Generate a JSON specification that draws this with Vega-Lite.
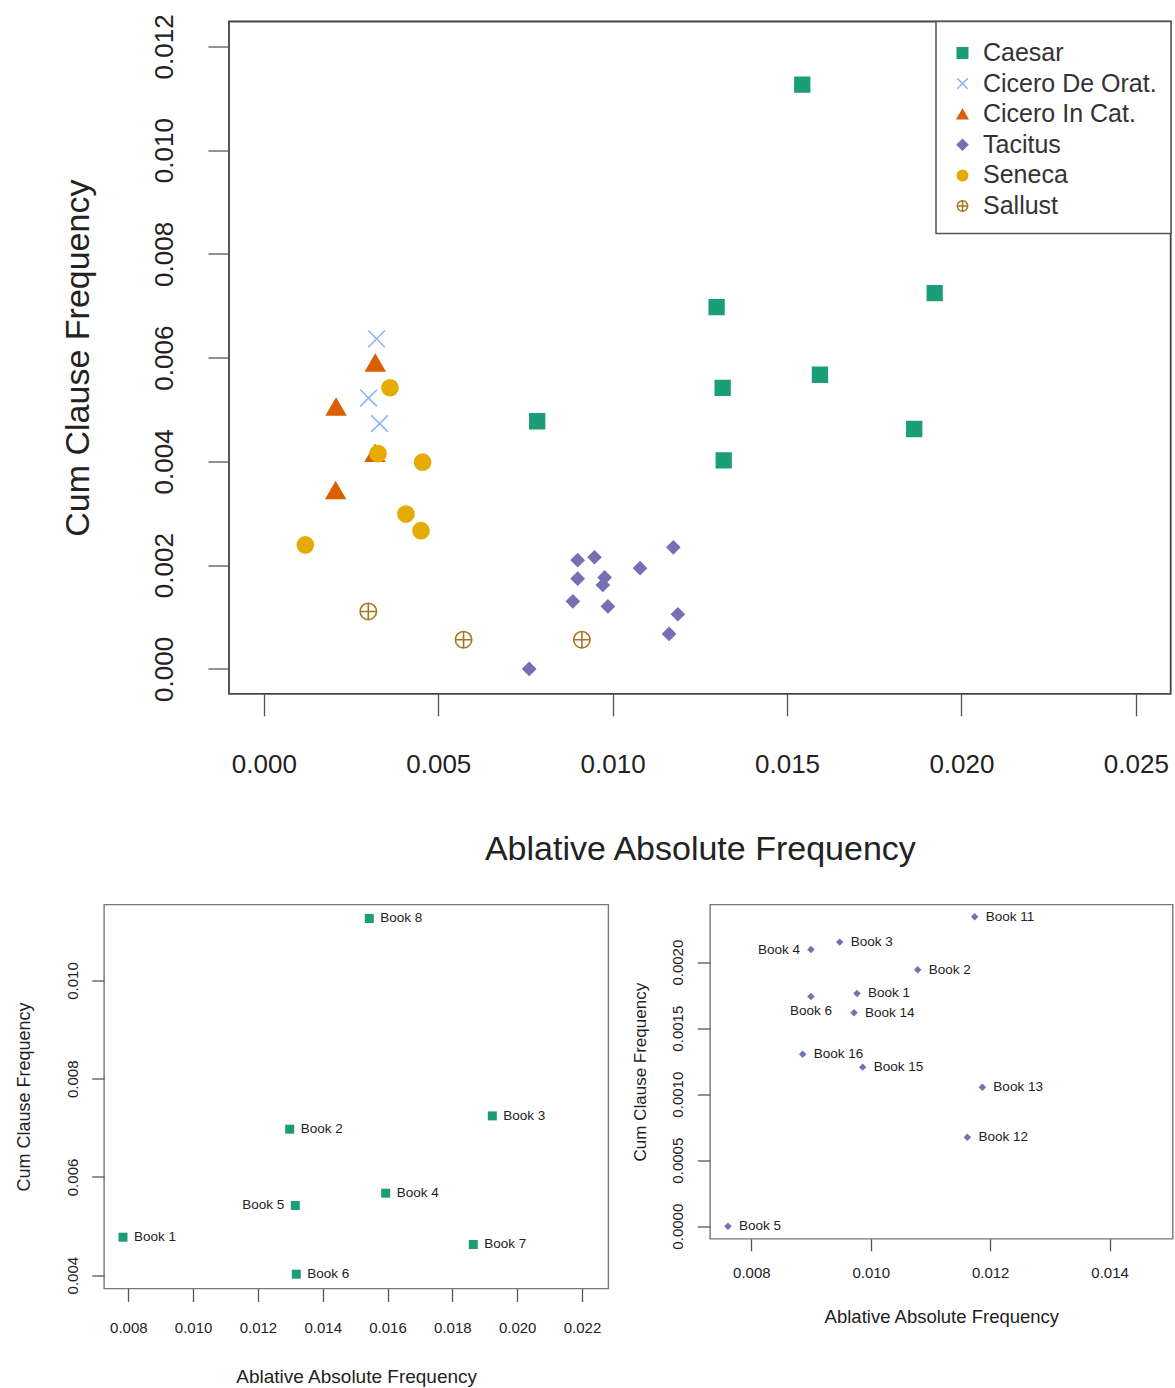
{
  "$schema": "https://vega.github.io/schema/vega-lite/v6.json",
  "padding": {"left": 14, "top": 12.5, "right": 0, "bottom": 0},
  "background": "white",
  "config": {
    "font": "Liberation Sans",
    "view": {"stroke": "#555", "strokeWidth": 1.6},
    "axis": {"domain": false, "grid": false, "tickColor": "#555", "tickWidth": 1.3, "labelColor": "#222", "titleColor": "#222", "titleFontWeight": "normal", "labelFlush": false, "labelOverlap": false},
    "legend": {"orient": "top-right", "offset": 0, "padding": 14, "strokeColor": "#555", "strokeWidth": 1.5, "fillColor": "white", "labelFontSize": 25, "labelLimit": 400, "labelColor": "#333", "symbolSize": 110, "symbolStrokeWidth": 1.5, "rowPadding": 4.6, "labelOffset": 8, "titleFontSize": 1, "titlePadding": 4}
  },
  "datasets": {
    "works": [
      {"author": "Caesar", "book": "Book 1", "x": 0.007836, "y": 0.004774},
      {"author": "Caesar", "book": "Book 2", "x": 0.012981, "y": 0.006973},
      {"author": "Caesar", "book": "Book 3", "x": 0.019233, "y": 0.007243},
      {"author": "Caesar", "book": "Book 4", "x": 0.015943, "y": 0.00567},
      {"author": "Caesar", "book": "Book 5", "x": 0.013154, "y": 0.005419},
      {"author": "Caesar", "book": "Book 6", "x": 0.013184, "y": 0.00402},
      {"author": "Caesar", "book": "Book 7", "x": 0.018646, "y": 0.004625},
      {"author": "Caesar", "book": "Book 8", "x": 0.015437, "y": 0.011262},
      {"author": "Cicero De Orat.", "book": "", "x": 0.003232, "y": 0.006362},
      {"author": "Cicero De Orat.", "book": "", "x": 0.003003, "y": 0.005221},
      {"author": "Cicero De Orat.", "book": "", "x": 0.003318, "y": 0.004729},
      {"author": "Cicero In Cat.", "book": "", "x": 0.003195, "y": 0.0059},
      {"author": "Cicero In Cat.", "book": "", "x": 0.002069, "y": 0.00505},
      {"author": "Cicero In Cat.", "book": "", "x": 0.003186, "y": 0.00416},
      {"author": "Cicero In Cat.", "book": "", "x": 0.002057, "y": 0.00344},
      {"author": "Tacitus", "book": "Book 1", "x": 0.009769, "y": 0.001763},
      {"author": "Tacitus", "book": "Book 2", "x": 0.010786, "y": 0.001942},
      {"author": "Tacitus", "book": "Book 3", "x": 0.009479, "y": 0.002152},
      {"author": "Tacitus", "book": "Book 4", "x": 0.008998, "y": 0.002096},
      {"author": "Tacitus", "book": "Book 5", "x": 0.007608, "y": 0.0},
      {"author": "Tacitus", "book": "Book 6", "x": 0.008998, "y": 0.00174},
      {"author": "Tacitus", "book": "Book 11", "x": 0.01174, "y": 0.002344},
      {"author": "Tacitus", "book": "Book 12", "x": 0.011618, "y": 0.000674},
      {"author": "Tacitus", "book": "Book 13", "x": 0.011869, "y": 0.001053},
      {"author": "Tacitus", "book": "Book 14", "x": 0.009719, "y": 0.001617},
      {"author": "Tacitus", "book": "Book 15", "x": 0.009864, "y": 0.001205},
      {"author": "Tacitus", "book": "Book 16", "x": 0.008859, "y": 0.001303},
      {"author": "Seneca", "book": "", "x": 0.003616, "y": 0.00542},
      {"author": "Seneca", "book": "", "x": 0.003272, "y": 0.004152},
      {"author": "Seneca", "book": "", "x": 0.00455, "y": 0.003985},
      {"author": "Seneca", "book": "", "x": 0.004074, "y": 0.002985},
      {"author": "Seneca", "book": "", "x": 0.004504, "y": 0.002664},
      {"author": "Seneca", "book": "", "x": 0.001189, "y": 0.002389},
      {"author": "Sallust", "book": "", "x": 0.002994, "y": 0.001107},
      {"author": "Sallust", "book": "", "x": 0.005725, "y": 0.000563},
      {"author": "Sallust", "book": "", "x": 0.009117, "y": 0.000563}
    ]
  },
  "bounds": "full",
  "spacing": 35,
  "resolve": {"scale": {"fill": "independent", "stroke": "independent", "shape": "independent", "size": "independent"}},
  "vconcat": [
    {
      "bounds": "flush",
      "spacing": 0,
      "resolve": {"scale": {"fill": "independent", "stroke": "independent", "shape": "independent", "size": "independent"}},
      "hconcat": [
        {
          "width": 124.3,
          "height": 1,
          "data": {"values": []},
          "mark": {"type": "point", "opacity": 0},
          "encoding": {},
          "view": {"stroke": null}
        },
        {
          "width": 941.7,
          "height": 672.3,
          "data": {"name": "works"},
          "view": {"stroke": "#444", "strokeWidth": 1.8},
          "mark": {"type": "point", "filled": true, "opacity": 1, "strokeWidth": 1.6},
          "encoding": {
            "x": {
              "field": "x", "type": "quantitative",
              "scale": {"domain": [-0.001, 0.026], "nice": false, "zero": false},
              "axis": {"values": [0, 0.005, 0.01, 0.015, 0.02, 0.025], "format": ".3f", "tickSize": 22, "labelFontSize": 26, "labelPadding": 36, "title": "Ablative Absolute Frequency", "titleFontSize": 34, "titlePadding": 55}
            },
            "y": {
              "field": "y", "type": "quantitative",
              "scale": {"domain": [-0.00048, 0.01248], "nice": false, "zero": false},
              "axis": {"values": [0, 0.002, 0.004, 0.006, 0.008, 0.01, 0.012], "format": ".3f", "tickSize": 21, "labelAngle": -90, "labelFontSize": 26, "labelPadding": 31, "title": "Cum Clause Frequency", "titleFontSize": 34, "titlePadding": 56}
            },
            "fill": {
              "field": "author", "type": "nominal",
              "scale": {"domain": ["Caesar", "Cicero De Orat.", "Cicero In Cat.", "Tacitus", "Seneca", "Sallust"], "range": ["#1b9e77", "transparent", "#d95f02", "#7570b3", "#e6ab02", "transparent"]},
              "legend": {"title": " ", "orient": "top-right"}
            },
            "stroke": {
              "field": "author", "type": "nominal",
              "scale": {"domain": ["Caesar", "Cicero De Orat.", "Cicero In Cat.", "Tacitus", "Seneca", "Sallust"], "range": ["#1b9e77", "#8fb3f5", "#d95f02", "#7570b3", "#e6ab02", "#a6761d"]},
              "legend": {"title": " ", "orient": "top-right"}
            },
            "shape": {
              "field": "author", "type": "nominal",
              "scale": {"domain": ["Caesar", "Cicero De Orat.", "Cicero In Cat.", "Tacitus", "Seneca", "Sallust"], "range": ["square", "M-1,-1L1,1M-1,1L1,-1", "triangle-up", "diamond", "circle", "M-1,0A1,1 0 1,1 1,0A1,1 0 1,1 -1,0ZM-1,0L1,0M0,-1L0,1"]},
              "legend": {"title": " ", "orient": "top-right"}
            },
            "size": {
              "field": "author", "type": "nominal",
              "scale": {"type": "ordinal", "domain": ["Sallust", "Seneca", "Tacitus", "Cicero In Cat.", "Cicero De Orat.", "Caesar"], "range": [269, 260, 154, 350, 278, 216]},
              "legend": null
            }
          }
        }
      ]
    },
    {
      "bounds": "flush",
      "spacing": 101,
      "resolve": {"scale": {"fill": "independent", "stroke": "independent", "shape": "independent", "size": "independent"}},
      "hconcat": [
        {
          "width": 504.3,
          "height": 384,
          "data": {"name": "works"},
          "transform": [{"filter": "datum.author == 'Caesar'"}],
          "view": {"stroke": "#777", "strokeWidth": 1.4},
          "encoding": {
            "x": {
              "field": "x", "type": "quantitative",
              "scale": {"domain": [0.00725, 0.022813], "nice": false, "zero": false},
              "axis": {"values": [0.008, 0.01, 0.012, 0.014, 0.016, 0.018, 0.02, 0.022], "format": ".3f", "tickSize": 13, "labelFontSize": 15, "labelPadding": 19, "title": "Ablative Absolute Frequency", "titleFontSize": 19, "titlePadding": 32}
            },
            "y": {
              "field": "y", "type": "quantitative",
              "scale": {"domain": [0.003729, 0.011547], "nice": false, "zero": false},
              "axis": {"values": [0.004, 0.006, 0.008, 0.01], "format": ".3f", "tickSize": 12.3, "labelAngle": -90, "labelFontSize": 15, "labelPadding": 11.5, "title": "Cum Clause Frequency", "titleFontSize": 18, "titlePadding": 31.5}
            }
          },
          "layer": [
            {"mark": {"type": "point", "shape": "square", "filled": true, "color": "#1b9e77", "size": 81, "opacity": 1}},
            {
              "transform": [{"filter": "datum.book != 'Book 5'"}],
              "mark": {"type": "text", "align": "left", "baseline": "middle", "dx": 11, "fontSize": 13.5, "color": "#222"},
              "encoding": {"text": {"field": "book"}}
            },
            {
              "transform": [{"filter": "datum.book == 'Book 5'"}],
              "mark": {"type": "text", "align": "right", "baseline": "middle", "dx": -11, "fontSize": 13.5, "color": "#222"},
              "encoding": {"text": {"field": "book"}}
            }
          ]
        },
        {
          "width": 462.7,
          "height": 334.3,
          "data": {"name": "works"},
          "transform": [{"filter": "datum.author == 'Tacitus'"}],
          "view": {"stroke": "#777", "strokeWidth": 1.4},
          "encoding": {
            "x": {
              "field": "x", "type": "quantitative",
              "scale": {"domain": [0.007307, 0.015057], "nice": false, "zero": false},
              "axis": {"values": [0.008, 0.01, 0.012, 0.014], "format": ".3f", "tickSize": 12, "labelFontSize": 15, "labelPadding": 15, "title": "Ablative Absolute Frequency", "titleFontSize": 18.5, "titlePadding": 27}
            },
            "y": {
              "field": "y", "type": "quantitative",
              "scale": {"domain": [-0.0000955, 0.002437], "nice": false, "zero": false},
              "axis": {"values": [0, 0.0005, 0.001, 0.0015, 0.002], "format": ".4f", "tickSize": 12.6, "labelAngle": -90, "labelFontSize": 15, "labelPadding": 12, "title": "Cum Clause Frequency", "titleFontSize": 17, "titlePadding": 21}
            }
          },
          "layer": [
            {"mark": {"type": "point", "shape": "diamond", "filled": true, "color": "#7570b3", "size": 56, "opacity": 1}},
            {
              "transform": [{"filter": "datum.book != 'Book 4' && datum.book != 'Book 6'"}],
              "mark": {"type": "text", "align": "left", "baseline": "middle", "dx": 11, "fontSize": 13.5, "color": "#222"},
              "encoding": {"text": {"field": "book"}}
            },
            {
              "transform": [{"filter": "datum.book == 'Book 4'"}],
              "mark": {"type": "text", "align": "right", "baseline": "middle", "dx": -11, "fontSize": 13.5, "color": "#222"},
              "encoding": {"text": {"field": "book"}}
            },
            {
              "transform": [{"filter": "datum.book == 'Book 6'"}],
              "mark": {"type": "text", "align": "center", "baseline": "middle", "dy": 14.7, "fontSize": 13.5, "color": "#222"},
              "encoding": {"text": {"field": "book"}}
            }
          ]
        }
      ]
    }
  ]
}
